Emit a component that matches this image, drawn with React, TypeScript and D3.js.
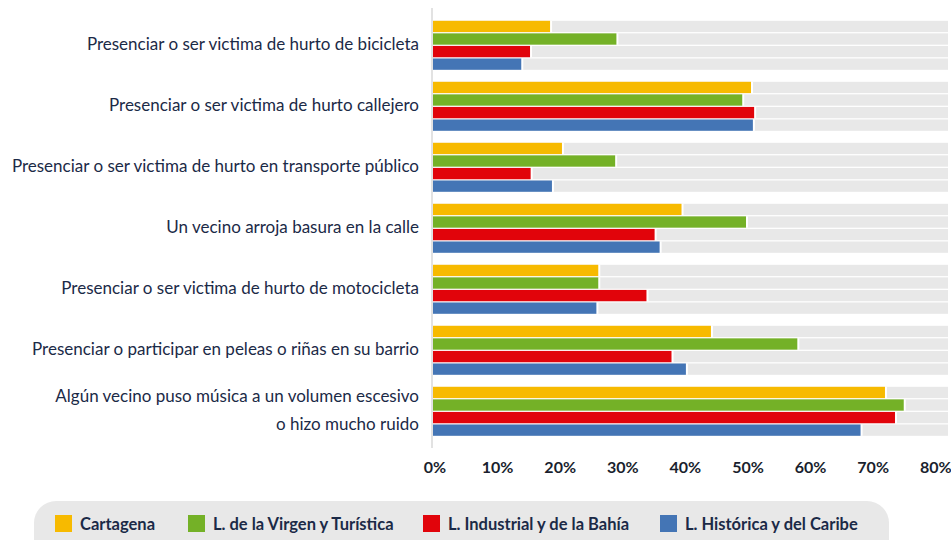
import React from "react";
import * as d3 from "d3";

const categories: string[][] = [
  ["Presenciar o ser victima de hurto de bicicleta"],
  ["Presenciar o ser victima de hurto callejero"],
  ["Presenciar o ser victima de hurto en transporte público"],
  ["Un vecino arroja basura en la calle"],
  ["Presenciar o ser victima de hurto de motocicleta"],
  ["Presenciar o participar en peleas o riñas en su barrio"],
  ["Algún vecino puso música a un volumen escesivo", "o hizo mucho ruido"],
];

const seriesNames = [
  "Cartagena",
  "L. de la Virgen y Turística",
  "L. Industrial y de la Bahía",
  "L. Histórica y del Caribe",
];

const cartagena = [0.187, 0.508, 0.206, 0.397, 0.264, 0.444, 0.722];
const virgen = [0.293, 0.494, 0.291, 0.5, 0.264, 0.582, 0.752];
const industrial = [0.155, 0.513, 0.156, 0.354, 0.341, 0.381, 0.738];
const historica = [0.141, 0.511, 0.19, 0.362, 0.261, 0.404, 0.683];

const seriesValues = [cartagena, virgen, industrial, historica];
const colors = ["#F7BA00", "#74B127", "#E1040B", "#4475B5"];
const tickValues = [0, 0.1, 0.2, 0.3, 0.4, 0.5, 0.6, 0.7, 0.8];

const W = 951;
const H = 540;
const TEXT = "#1B2A47";
const FONT = "Lato, 'Noto Sans', sans-serif";

export default function App() {
  const x = d3.scaleLinear().domain([0, 0.8227]).range([433, 948]);
  const y = d3
    .scaleBand<number>()
    .domain(d3.range(categories.length))
    .range([14.8, 441.8])
    .paddingInner(0.1967)
    .paddingOuter(0.0984);
  const inner = d3
    .scaleBand<number>()
    .domain(d3.range(seriesNames.length))
    .range([0, y.bandwidth()])
    .paddingInner(0.1)
    .paddingOuter(0);
  const fmt = d3.format(".0%");

  const legendX = [55, 188, 423, 660];

  return (
    <svg
      width={W}
      height={H}
      style={{ position: "absolute", left: 0, top: 0, fontFamily: FONT }}
    >
      <rect x={0} y={0} width={W} height={H} fill="#ffffff" />
      <line x1={432} x2={432} y1={8} y2={448} stroke="#e2e2e2" strokeWidth={2} />
      {categories.map((cat, i) => {
        const gy = y(i)!;
        const cy = gy + y.bandwidth() / 2;
        return (
          <g key={i}>
            {seriesNames.map((s, j) => {
              const by = gy + inner(j)!;
              const v = seriesValues[j][i];
              return (
                <g key={j}>
                  <rect
                    x={x(0)}
                    y={by}
                    width={x.range()[1] - x(0)}
                    height={inner.bandwidth()}
                    fill="#E8E8E8"
                  />
                  <rect
                    x={x(0)}
                    y={by}
                    width={x(v) - x(0) + 2}
                    height={inner.bandwidth()}
                    fill="#ffffff"
                  />
                  <rect
                    x={x(0)}
                    y={by}
                    width={x(v) - x(0)}
                    height={inner.bandwidth()}
                    fill={colors[j]}
                  />
                </g>
              );
            })}
            {cat.map((line, k) => (
              <text
                key={k}
                x={419}
                y={cy - 2 + (k - (cat.length - 1) / 2) * 28}
                textAnchor="end"
                dominantBaseline="central"
                fontSize={17}
                fill={TEXT}
              >
                {line}
              </text>
            ))}
          </g>
        );
      })}
      {tickValues.map((t) => (
        <text
          key={t}
          x={x(t) + 2}
          y={473}
          textAnchor="middle"
          fontSize={16}
          fontWeight={700}
          fill="#1a1f2e"
        >
          {fmt(t)}
        </text>
      ))}
      <rect x={34} y={501} width={855} height={60} rx={22} ry={22} fill="#E8E8E8" />
      {seriesNames.map((s, j) => (
        <g key={s}>
          <rect x={legendX[j]} y={515} width={17} height={17} fill={colors[j]} />
          <text
            x={legendX[j] + 25}
            y={524}
            dominantBaseline="central"
            fontSize={16.5}
            fontWeight={700}
            fill={TEXT}
          >
            {s}
          </text>
        </g>
      ))}
    </svg>
  );
}
